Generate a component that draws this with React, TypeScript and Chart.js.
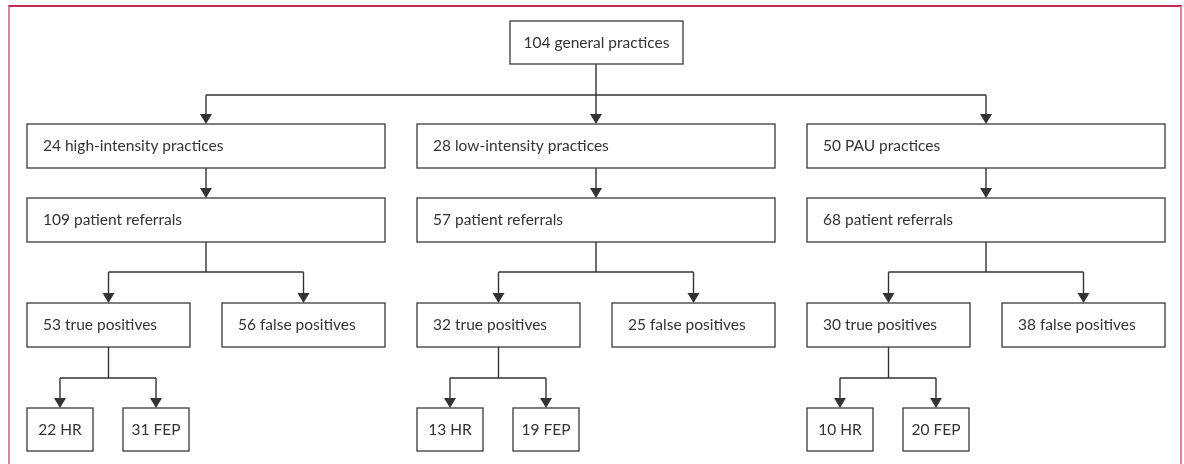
import React, { useEffect, useRef } from "react";
import { Chart, registerables } from "chart.js";

Chart.register(...registerables);

// ---------- data ----------
const TOTAL_PRACTICES = 104;
const armNames = ["high-intensity practices", "low-intensity practices", "PAU practices"];
const practices = [24, 28, 50];
const referrals = [109, 57, 68];
const truePositives = [53, 32, 30];
const falsePositives = [56, 25, 38];
const hrCounts = [22, 13, 10];
const fepCounts = [31, 19, 20];

// ---------- layout (in scale units) ----------
const W = 1184;
const H = 464;
const ARM_LEFT0 = 27;
const ARM_STEP = 390;
const ARM_W = 358;
const TOP_BOX = { x0: 510, x1: 683, y0: 21, y1: 64 };
const LEVELS = [
  { y0: 21, y1: 64 },
  { y0: 124, y1: 168 },
  { y0: 198, y1: 242 },
  { y0: 303, y1: 347 },
  { y0: 408, y1: 451 },
];
const BUS_TOP = 95;
const BUS_L3 = 272;
const BUS_L4 = 378;

type Node = {
  label: string;
  x0: number;
  x1: number;
  y0: number;
  y1: number;
  align: "left" | "center";
};
type Link = { parent: Node; children: Node[]; busY?: number; stemX?: number };

function buildTree() {
  const nodes: Node[] = [];
  const links: Link[] = [];
  const top: Node = { label: `${TOTAL_PRACTICES} general practices`, ...TOP_BOX, align: "center" };
  nodes.push(top);
  const armBoxes: Node[] = [];
  armNames.forEach((name, i) => {
    const L = ARM_LEFT0 + i * ARM_STEP;
    const a: Node = { label: `${practices[i]} ${name}`, x0: L, x1: L + ARM_W, ...LEVELS[1], align: "left" };
    const r: Node = { label: `${referrals[i]} patient referrals`, x0: L, x1: L + ARM_W, ...LEVELS[2], align: "left" };
    const tp: Node = { label: `${truePositives[i]} true positives`, x0: L, x1: L + 163, ...LEVELS[3], align: "left" };
    const fp: Node = { label: `${falsePositives[i]} false positives`, x0: L + 195, x1: L + ARM_W, ...LEVELS[3], align: "left" };
    const hr: Node = { label: `${hrCounts[i]} HR`, x0: L, x1: L + 66, ...LEVELS[4], align: "center" };
    const fe: Node = { label: `${fepCounts[i]} FEP`, x0: L + 96, x1: L + 162, ...LEVELS[4], align: "center" };
    nodes.push(a, r, tp, fp, hr, fe);
    armBoxes.push(a);
    links.push({ parent: a, children: [r] });
    links.push({ parent: r, children: [tp, fp], busY: BUS_L3 });
    links.push({ parent: tp, children: [hr, fe], busY: BUS_L4 });
  });
  links.push({ parent: top, children: armBoxes, busY: BUS_TOP, stemX: 596 });
  return { nodes, links };
}

const FONT = "15.5px Lato, 'Open Sans', sans-serif";
const INK = "#333333";

const flowPlugin = {
  id: "flow",
  afterDatasetsDraw(chart: any) {
    const { ctx } = chart;
    const xs = chart.scales.x;
    const ys = chart.scales.y;
    const X = (v: number) => xs.getPixelForValue(v);
    const Y = (v: number) => ys.getPixelForValue(v);
    const { nodes, links } = buildTree();
    const cx = (n: Node) => (n.x0 + n.x1) / 2;

    ctx.save();
    ctx.strokeStyle = INK;
    ctx.fillStyle = INK;
    ctx.lineWidth = 1.4;

    const line = (x1: number, y1: number, x2: number, y2: number) => {
      ctx.beginPath();
      ctx.moveTo(X(x1), Y(y1));
      ctx.lineTo(X(x2), Y(y2));
      ctx.stroke();
    };
    const arrow = (x: number, yTop: number, yTip: number) => {
      const hl = 10;
      const hw = 6;
      line(x, yTop, x, yTip - hl + 1);
      ctx.beginPath();
      ctx.moveTo(X(x) - hw, Y(yTip) - hl);
      ctx.lineTo(X(x) + hw, Y(yTip) - hl);
      ctx.lineTo(X(x), Y(yTip));
      ctx.closePath();
      ctx.fill();
    };

    links.forEach((lk) => {
      const p = lk.parent;
      if (lk.children.length === 1) {
        const c = lk.children[0];
        arrow(cx(c), p.y1, c.y0);
      } else {
        const sx = lk.stemX ?? cx(p);
        const busY = lk.busY as number;
        line(sx, p.y1, sx, busY);
        const xsC = lk.children.map(cx);
        line(Math.min(...xsC), busY, Math.max(...xsC), busY);
        lk.children.forEach((c) => arrow(cx(c), busY, c.y0));
      }
    });

    ctx.lineWidth = 1.3;
    ctx.strokeStyle = "#3a3a3a";
    ctx.font = FONT;
    ctx.textBaseline = "middle";
    nodes.forEach((n) => {
      const x0 = X(n.x0), x1 = X(n.x1), y0 = Y(n.y0), y1 = Y(n.y1);
      ctx.fillStyle = "#ffffff";
      ctx.fillRect(x0, y0, x1 - x0, y1 - y0);
      ctx.strokeRect(x0, y0, x1 - x0, y1 - y0);
      ctx.fillStyle = INK;
      const my = (y0 + y1) / 2;
      if (n.align === "center") {
        ctx.textAlign = "center";
        ctx.fillText(n.label, (x0 + x1) / 2, my);
      } else {
        ctx.textAlign = "left";
        ctx.fillText(n.label, x0 + 16, my);
      }
    });
    ctx.restore();
  },
};

export default function App() {
  const ref = useRef<HTMLCanvasElement>(null);
  useEffect(() => {
    if (!ref.current) return;
    const { nodes } = buildTree();
    const chart = new Chart(ref.current, {
      type: "scatter",
      data: {
        datasets: [
          {
            data: nodes.map((n) => ({ x: (n.x0 + n.x1) / 2, y: (n.y0 + n.y1) / 2 })),
            pointRadius: 0,
            pointHoverRadius: 0,
          },
        ],
      },
      options: {
        responsive: false,
        animation: false,
        events: [],
        layout: { padding: 0 },
        scales: {
          x: { type: "linear", display: false, min: 0, max: W },
          y: { type: "linear", display: false, min: 0, max: H, reverse: true },
        },
        plugins: { legend: { display: false }, tooltip: { enabled: false } },
      },
      plugins: [flowPlugin],
    });
    return () => chart.destroy();
  }, []);

  return (
    <div style={{ position: "fixed", left: 0, top: 0, width: W, height: H, background: "#fff", overflow: "hidden" }}>
      <div
        style={{
          position: "absolute",
          left: 8,
          top: 5,
          width: 1174,
          height: 480,
          boxSizing: "border-box",
          borderTop: "2px solid #c4294d",
          borderLeft: "2px solid #df7f9a",
          borderRight: "2px solid #df7f9a",
        }}
      />
      <canvas ref={ref} width={W} height={H} style={{ position: "absolute", left: 0, top: 0 }} />
    </div>
  );
}
